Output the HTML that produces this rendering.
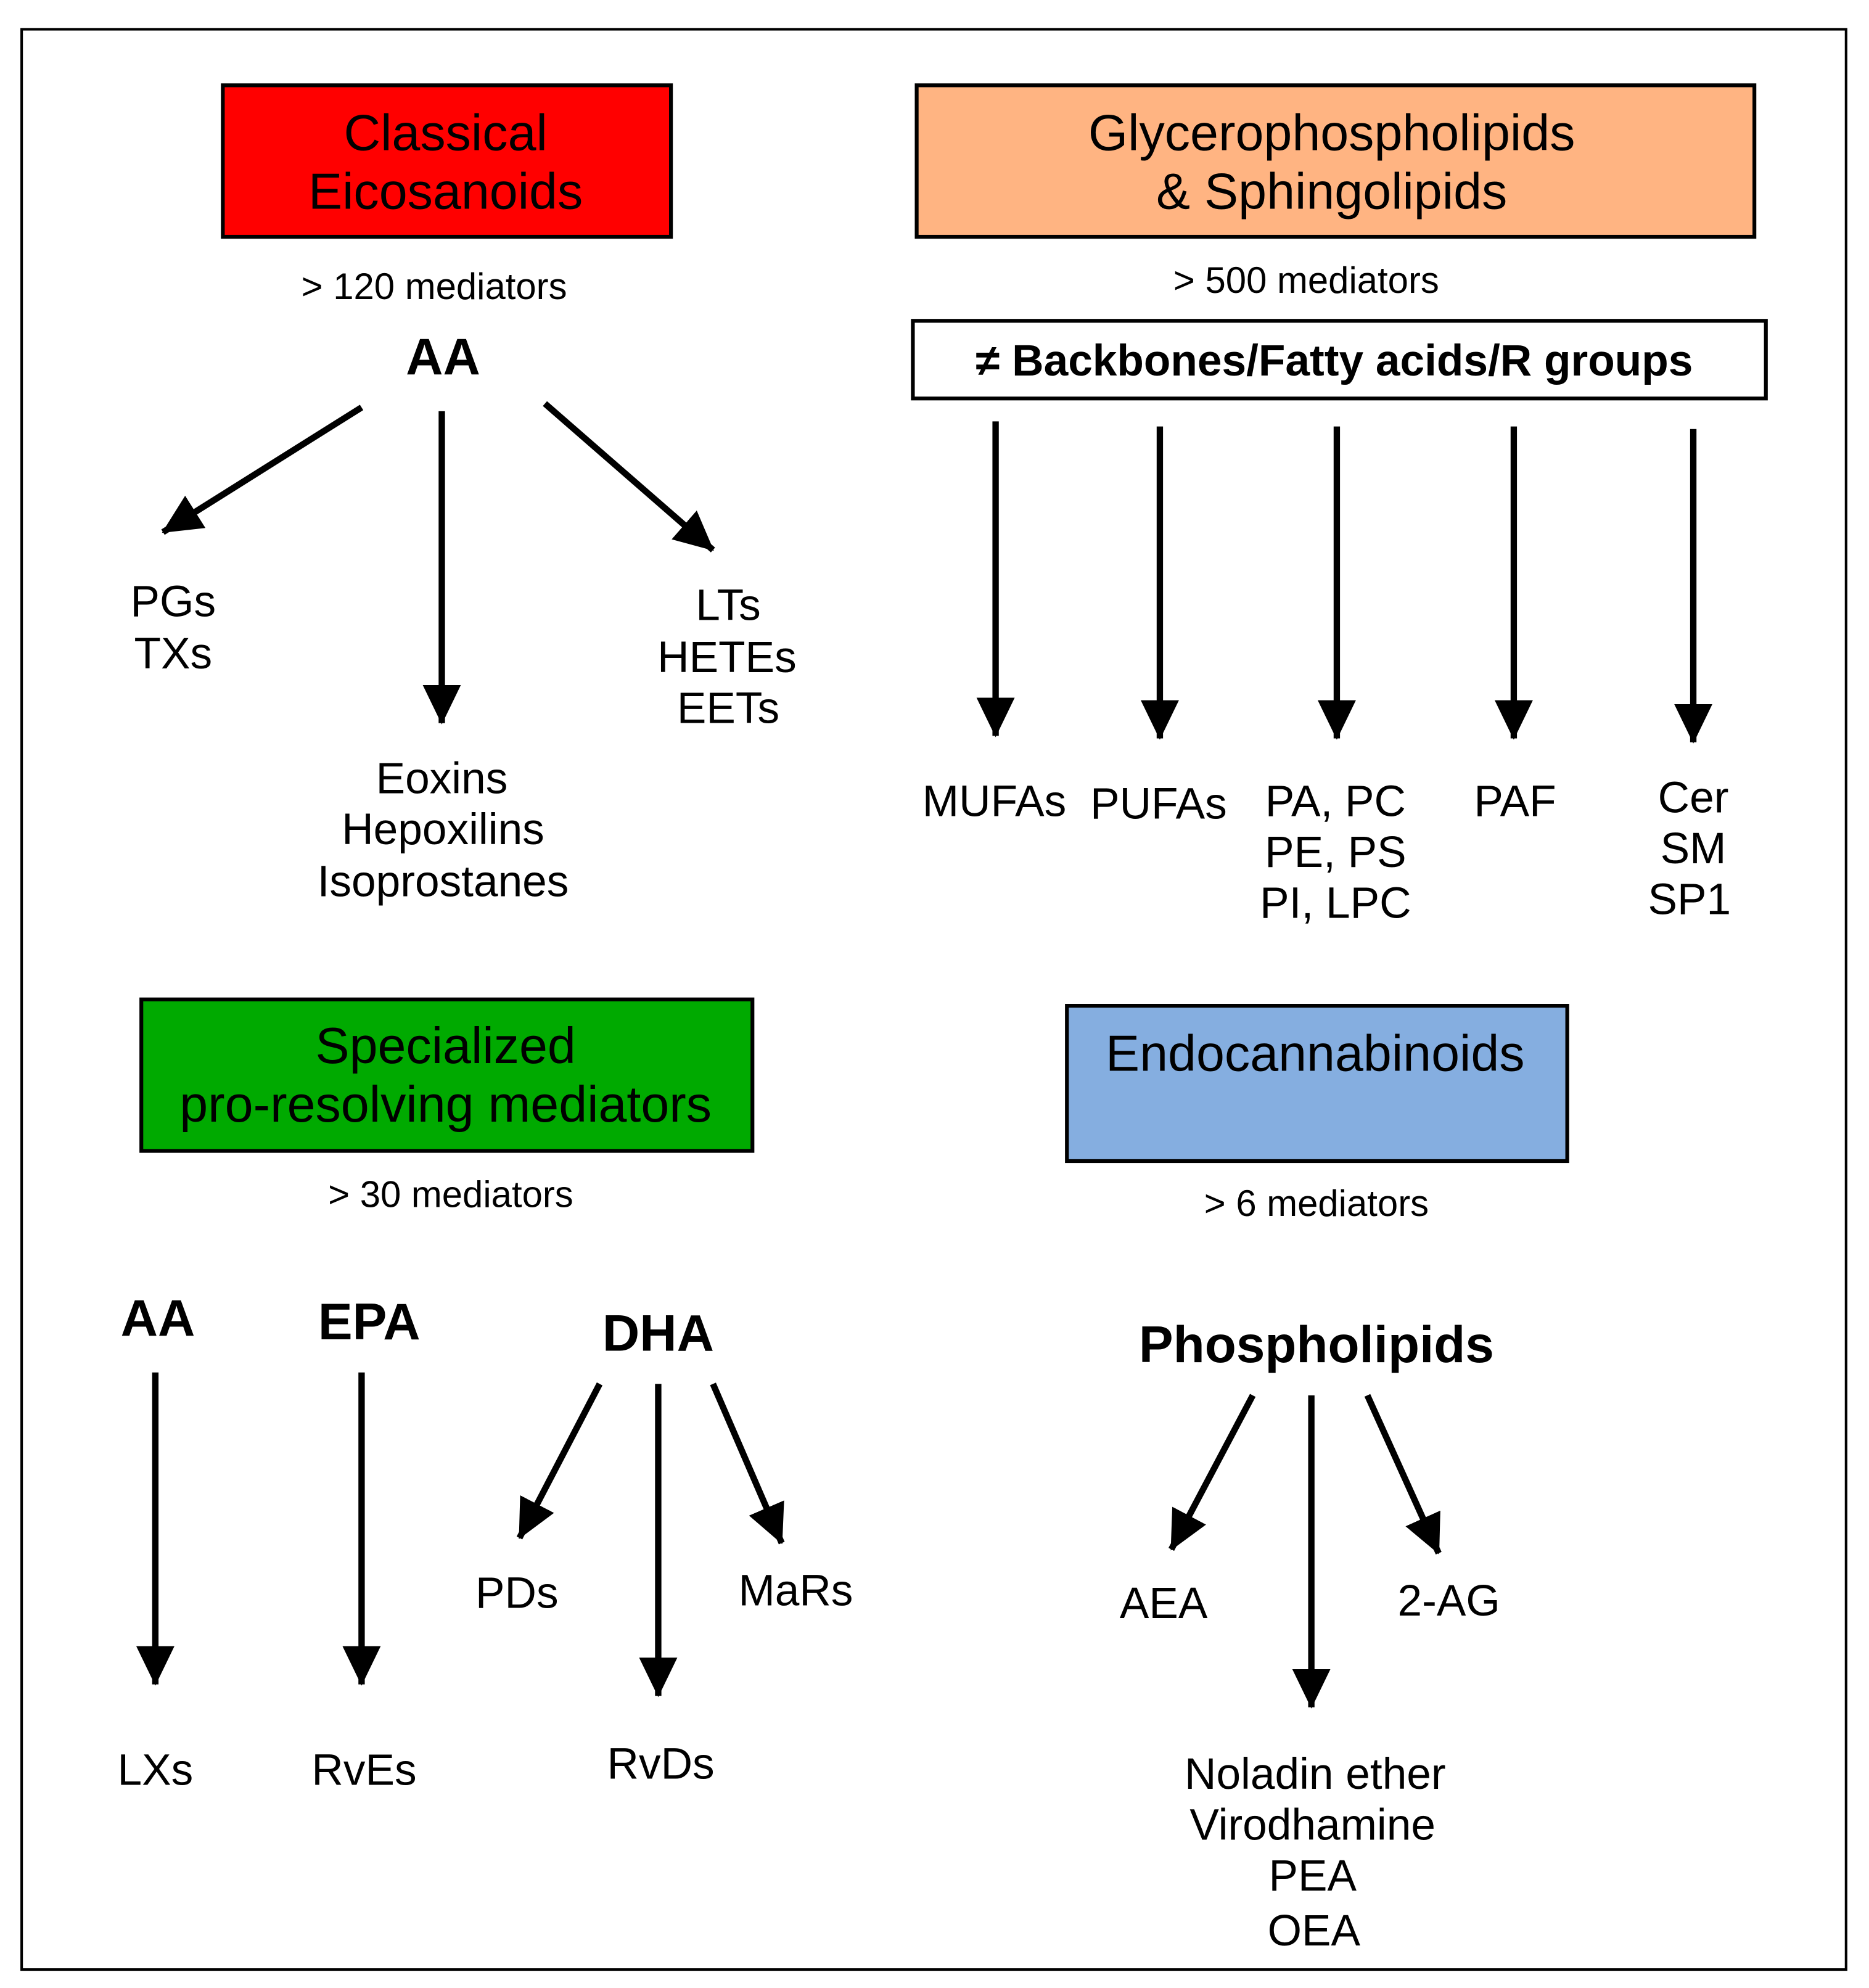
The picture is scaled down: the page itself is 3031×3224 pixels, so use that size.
<!DOCTYPE html>
<html><head><meta charset="utf-8"><style>
html,body{margin:0;padding:0;background:#fff}
svg{display:block}
text{font-family:"Liberation Sans",Arial,sans-serif;text-anchor:middle;fill:#000}
.t{font-size:40px}.m{font-size:29px}.l{font-size:34.5px}.b{font-weight:bold;font-size:40.5px}
</style></head><body>
<svg width="3031" height="3224" viewBox="0 0 1468 1561.5" xmlns="http://www.w3.org/2000/svg">
<defs><marker id="a" markerUnits="userSpaceOnUse" markerWidth="32" markerHeight="32" refX="30" refY="16" orient="auto"><path d="M0,1 L31,16 L0,31 Z" fill="#000"/></marker></defs>
<rect x="17" y="23" width="1433" height="1524" fill="none" stroke="#000" stroke-width="2"/>
<rect x="175" y="67" width="352" height="119" fill="#FF0000" stroke="#000" stroke-width="3"/>
<rect x="720" y="67" width="658" height="119" fill="#FFB482" stroke="#000" stroke-width="3"/>
<rect x="717" y="252" width="670" height="61" fill="#fff" stroke="#000" stroke-width="3"/>
<rect x="111" y="785" width="480" height="119" fill="#00AA00" stroke="#000" stroke-width="3"/>
<rect x="838" y="790" width="393" height="122" fill="#85AEE0" stroke="#000" stroke-width="3"/>
<g stroke="#000" stroke-width="5" marker-end="url(#a)">
<line x1="284" y1="320" x2="128" y2="418"/>
<line x1="347" y1="323" x2="347" y2="568"/>
<line x1="428" y1="317" x2="560" y2="432"/>
<line x1="782" y1="331" x2="782" y2="578"/>
<line x1="911" y1="335" x2="911" y2="580"/>
<line x1="1050" y1="335" x2="1050" y2="580"/>
<line x1="1189" y1="335" x2="1189" y2="580"/>
<line x1="1330" y1="337" x2="1330" y2="583"/>
<line x1="122" y1="1078" x2="122" y2="1323"/>
<line x1="284" y1="1078" x2="284" y2="1323"/>
<line x1="471" y1="1087" x2="408" y2="1208"/>
<line x1="517" y1="1087" x2="517" y2="1332"/>
<line x1="560" y1="1087" x2="614" y2="1212"/>
<line x1="984" y1="1096" x2="920" y2="1217"/>
<line x1="1030" y1="1096" x2="1030" y2="1341"/>
<line x1="1074" y1="1096" x2="1130" y2="1220"/>
</g>
<text class="t" x="350" y="118">Classical</text>
<text class="t" x="350" y="164">Eicosanoids</text>
<text class="m" x="341" y="235">&gt; 120 mediators</text>
<text class="b" x="348" y="294">AA</text>
<text class="l" x="136" y="484">PGs</text>
<text class="l" x="136" y="525">TXs</text>
<text class="l" x="347" y="623">Eoxins</text>
<text class="l" x="348" y="663">Hepoxilins</text>
<text class="l" x="348" y="704">Isoprostanes</text>
<text class="l" x="572" y="487">LTs</text>
<text class="l" x="571" y="528">HETEs</text>
<text class="l" x="572" y="568">EETs</text>
<text class="t" x="1046" y="118">Glycerophospholipids</text>
<text class="t" x="1046" y="164">&amp; Sphingolipids</text>
<text class="m" x="1026" y="230">&gt; 500 mediators</text>
<text x="1048" y="295" style="font-size:34.5px;font-weight:bold">≠ Backbones/Fatty acids/R groups</text>
<text class="l" x="781" y="641">MUFAs</text>
<text class="l" x="910" y="643">PUFAs</text>
<text class="l" x="1049" y="641">PA, PC</text>
<text class="l" x="1049" y="681">PE, PS</text>
<text class="l" x="1049" y="721">PI, LPC</text>
<text class="l" x="1190" y="641">PAF</text>
<text class="l" x="1330" y="638">Cer</text>
<text class="l" x="1330" y="678">SM</text>
<text class="l" x="1327" y="718">SP1</text>
<text class="t" x="350" y="835">Specialized</text>
<text class="t" x="350" y="881">pro-resolving mediators</text>
<text class="m" x="354" y="948">&gt; 30 mediators</text>
<text class="b" x="124" y="1049">AA</text>
<text class="b" x="290" y="1052">EPA</text>
<text class="b" x="517" y="1061">DHA</text>
<text class="l" x="406" y="1263">PDs</text>
<text class="l" x="625" y="1261">MaRs</text>
<text class="l" x="519" y="1397">RvDs</text>
<text class="l" x="122" y="1402">LXs</text>
<text class="l" x="286" y="1402">RvEs</text>
<text class="t" x="1033" y="841">Endocannabinoids</text>
<text class="m" x="1034" y="955">&gt; 6 mediators</text>
<text class="b" x="1034" y="1070">Phospholipids</text>
<text class="l" x="914" y="1271">AEA</text>
<text class="l" x="1138" y="1269">2-AG</text>
<text class="l" x="1033" y="1405">Noladin ether</text>
<text class="l" x="1031" y="1445">Virodhamine</text>
<text class="l" x="1031" y="1485">PEA</text>
<text class="l" x="1032" y="1528">OEA</text>
</svg>
</body></html>
